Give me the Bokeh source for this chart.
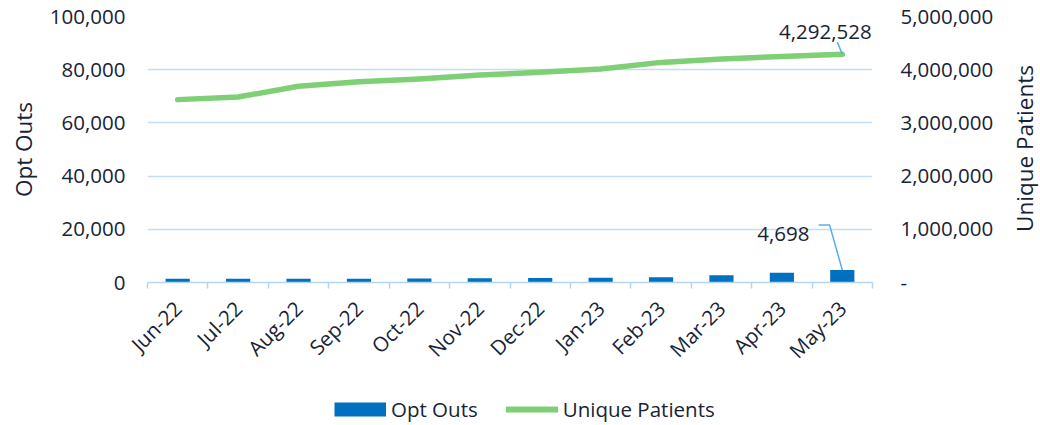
import math
from bokeh.plotting import figure
from bokeh.layouts import column, row
from bokeh.models import (Range1d, LinearAxis, FixedTicker, NumeralTickFormatter,
                          CustomJSTickFormatter, Label, Legend, LegendItem)
from bokeh.embed import file_html
from bokeh.resources import INLINE

months = ["Jun-22", "Jul-22", "Aug-22", "Sep-22", "Oct-22", "Nov-22",
          "Dec-22", "Jan-23", "Feb-23", "Mar-23", "Apr-23", "May-23"]
opt_outs = [1430, 1440, 1440, 1450, 1460, 1560, 1680, 1800, 1950, 2750, 3700, 4698]
unique_patients = [3437500, 3487500, 3687500, 3775000, 3825000, 3900000,
                   3950000, 4012500, 4137500, 4200000, 4250000, 4292528]
left_ticks = [0, 20000, 40000, 60000, 80000, 100000]
right_ticks = [0, 1000000, 2000000, 3000000, 4000000, 5000000]

FONT = "Open Sans"
TXT = "#172336"
GRID = "#c2ddf4"
AXIS = "#b3d5f2"
LEADER = "#5aaef0"
BLUE = "#0070c0"
GREEN = "#7ecf76"
FS = "20.5px"

W, H = 1040, 425
W_TITLE = 32
W_MAIN = W - W_TITLE
H_MAIN = 380
H_LEG = H - H_MAIN
TOP, BOTTOM_Y = 16, 282          # frame top / bottom (pixels)
LEFT, RIGHT_X = 147, 872         # frame left / right (pixels)

n = len(months)
xs = [i + 0.5 for i in range(n)]

p = figure(width=W_MAIN, height=H_MAIN, output_backend="svg", toolbar_location=None,
           x_range=Range1d(0, n), y_range=Range1d(left_ticks[0], left_ticks[-1]),
           min_border_left=LEFT, min_border_right=W_MAIN - RIGHT_X, min_border_top=TOP,
           min_border_bottom=H_MAIN - BOTTOM_Y, x_axis_location=None, y_axis_location=None)
p.outline_line_color = None
p.extra_y_ranges = {"right": Range1d(right_ticks[0], right_ticks[-1])}

# x axis: labels at category centres, small ticks at category boundaries
xaxis = LinearAxis(ticker=FixedTicker(ticks=xs, minor_ticks=list(range(n + 1))),
                   formatter=CustomJSTickFormatter(args=dict(cats=months),
                                                   code="return cats[Math.floor(tick)] || ''"))
xaxis.major_label_orientation = math.pi / 4
xaxis.major_tick_out = 0
xaxis.major_tick_in = 0
xaxis.minor_tick_out = 6
xaxis.minor_tick_in = 0
xaxis.minor_tick_line_color = AXIS
xaxis.minor_tick_line_width = 1.5
xaxis.axis_line_color = AXIS
xaxis.axis_line_width = 1.5
xaxis.major_label_standoff = 16
xaxis.major_label_text_font = FONT
xaxis.major_label_text_font_size = FS
xaxis.major_label_text_color = TXT
p.add_layout(xaxis, "below")

laxis = LinearAxis(ticker=FixedTicker(ticks=left_ticks), formatter=NumeralTickFormatter(format="0,0"),
                   axis_label="Opt Outs")
p.add_layout(laxis, "left")

raxis = LinearAxis(y_range_name="right", ticker=FixedTicker(ticks=right_ticks),
                   formatter=NumeralTickFormatter(format="0,0"))
raxis.major_label_overrides = {0: "-"}
p.add_layout(raxis, "right")

for ax, so, lso in ((laxis, 22, 8), (raxis, 28, 4)):
    ax.axis_line_color = None
    ax.major_tick_line_color = None
    ax.minor_tick_line_color = None
    ax.major_tick_out = 0
    ax.major_tick_in = 0
    ax.major_label_standoff = so
    ax.axis_label_standoff = lso
    ax.major_label_text_font = FONT
    ax.major_label_text_font_size = FS
    ax.major_label_text_color = TXT
    ax.axis_label_text_font = FONT
    ax.axis_label_text_font_size = "22.5px"
    ax.axis_label_text_font_style = "normal"
    ax.axis_label_text_color = TXT

p.xgrid.visible = False
p.ygrid.ticker = FixedTicker(ticks=left_ticks)
p.ygrid.grid_line_color = GRID
p.ygrid.grid_line_width = 1.5

p.vbar(x=xs, top=opt_outs, width=0.4, bottom=0, fill_color=BLUE, line_color=None)
p.line(xs, unique_patients, y_range_name="right", line_color=GREEN, line_width=5.5,
       line_cap="round", line_join="round")

# data labels with leader lines on the last points
fh = BOTTOM_Y - TOP
px_x = (RIGHT_X - LEFT) / n
px_left = fh / (left_ticks[-1] - left_ticks[0])
px_right = fh / (right_ticks[-1] - right_ticks[0])
lx, lv = xs[-1], unique_patients[-1]
bx, bv = xs[-1], opt_outs[-1]

p.line([lx, lx - 5 / px_x], [lv, lv + 12 / px_right], y_range_name="right",
       line_color=LEADER, line_width=1.5)
p.line([bx, bx - 12.7 / px_x, bx - 23.7 / px_x],
       [bv, bv + 45 / px_left, bv + 45 / px_left], line_color=LEADER, line_width=1.5)

p.add_layout(Label(x=lx, y=lv, y_range_name="right", text=f"{lv:,}", x_offset=-17, y_offset=22,
                   text_align="center", text_baseline="alphabetic", text_font=FONT,
                   text_font_size=FS, text_color=TXT))
p.add_layout(Label(x=bx, y=bv, text=f"{bv:,}", x_offset=-59, y_offset=36,
                   text_align="center", text_baseline="alphabetic", text_font=FONT,
                   text_font_size=FS, text_color=TXT))

# right-hand axis title, in its own narrow strip
p3 = figure(width=W_TITLE, height=H_MAIN, output_backend="svg", toolbar_location=None,
            x_range=Range1d(0, 1), y_range=Range1d(0, 1), min_border_left=0, min_border_right=0,
            min_border_top=TOP, min_border_bottom=H_MAIN - BOTTOM_Y,
            x_axis_location=None, y_axis_location=None)
p3.outline_line_color = None
p3.grid.visible = False
p3.add_layout(Label(x=0.5, y=0.5, text="Unique Patients", angle=math.pi / 2, y_offset=1,
                    text_align="center", text_baseline="middle", text_font=FONT,
                    text_font_size="22.5px", text_color=TXT))

# legend strip below the chart
p2 = figure(width=W, height=H_LEG, output_backend="svg", toolbar_location=None,
            x_range=Range1d(0, 1), y_range=Range1d(0, 1), min_border_left=LEFT,
            min_border_right=W - RIGHT_X, min_border_top=0, min_border_bottom=0,
            x_axis_location=None, y_axis_location=None)
p2.outline_line_color = None
p2.grid.visible = False
nan = float("nan")
sw_bar = p2.line([nan], [nan], line_color=BLUE, line_width=14, line_cap="butt")
sw_line = p2.line([nan], [nan], line_color=GREEN, line_width=6, line_cap="round")
legend = Legend(items=[LegendItem(label="Opt Outs", renderers=[sw_bar]),
                       LegendItem(label="Unique Patients", renderers=[sw_line])],
                orientation="horizontal", location=(334 - LEFT, 2),
                glyph_width=52, glyph_height=28, label_height=28, label_standoff=5,
                spacing=28, padding=0, margin=0,
                border_line_color=None, background_fill_alpha=0,
                label_text_font=FONT, label_text_font_size=FS, label_text_color=TXT)
p2.add_layout(legend, "center")

layout = column(row(p, p3, spacing=0), p2, spacing=0)
open("out.html", "w").write(file_html(layout, INLINE))
